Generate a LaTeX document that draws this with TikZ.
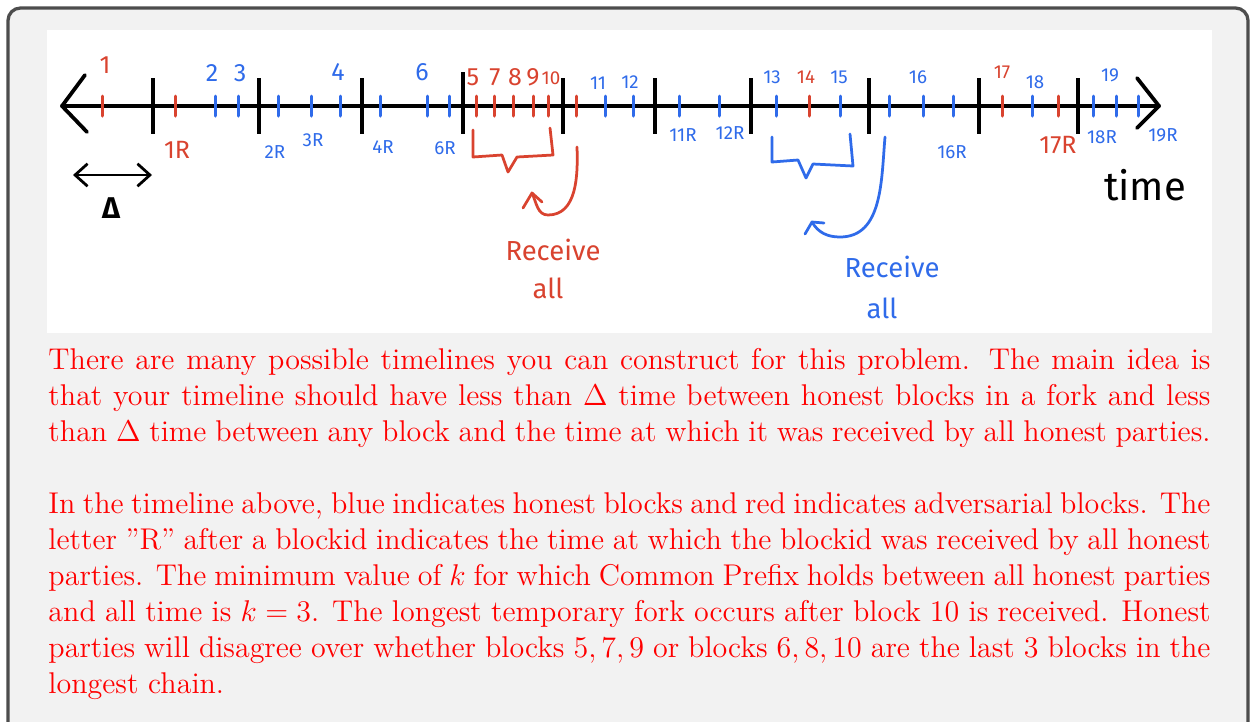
\documentclass[tikz,border=0pt]{standalone}
\usepackage{fontspec}
\usetikzlibrary{arrows.meta}
\newfontfamily\hand{Fira Sans}
\definecolor{hred}{HTML}{D9432F}
\definecolor{hblue}{HTML}{2F6BEA}
\definecolor{boxgray}{HTML}{F2F2F2}
\definecolor{boxedge}{HTML}{4D4D4D}
\tikzset{
  axisline/.style={line width=1.5pt, line cap=round, line join=round},
  bigtick/.style={line width=1.3pt},
  rtick/.style={hred, line width=1.2pt, line cap=round},
  btick/.style={hblue, line width=1.2pt, line cap=round},
  rpen/.style={hred, line width=1.1pt, line cap=round, line join=round},
  bpen/.style={hblue, line width=1.1pt, line cap=round, line join=round},
  rlab/.style={text=hred, font=\hand\fontsize{10}{10}\selectfont, inner sep=0pt},
  blab/.style={text=hblue, font=\hand\fontsize{10}{10}\selectfont, inner sep=0pt},
  rsm/.style={rlab, font=\hand\fontsize{7.5}{7.5}\selectfont},
  bsm/.style={blab, font=\hand\fontsize{7.5}{7.5}\selectfont},
  rword/.style={text=hred, font=\hand\fontsize{11}{11}\selectfont, inner sep=0pt},
  bword/.style={text=hblue, font=\hand\fontsize{11}{11}\selectfont, inner sep=0pt},
}
\begin{document}
\begin{tikzpicture}[x=0.4pt,y=-0.4pt]
\useasboundingbox (0,0) rectangle (1251,721);
\clip (0,0) rectangle (1251,721);
% outer box
\draw[boxedge, line width=1.3pt, fill=boxgray, rounded corners=5pt] (8,8) rectangle (1248,780);
\fill[white] (47,30) rectangle (1212,333);

% main axis
\draw[axisline] (62,106) -- (1159,106);
\draw[axisline] (85,75) -- (62,106) -- (87,132);
\draw[axisline] (1137,78) -- (1159,106) -- (1137,128);

% black ticks
\foreach \x in {153,259,362,563,655,751,869,979,1078}
  \draw[bigtick] (\x,78) -- (\x,134);
\draw[bigtick] (463,72) -- (463,134);

% red ticks
\foreach \x in {102,175,476,494,513,533,548,576,809,1002,1058}
  \draw[rtick] (\x,96) -- (\x,116);
% blue ticks
\foreach \x in {215,238,278,311,340,380,427,449,605,633,679,719,776,840,889,923,953,1032,1093,1116,1138}
  \draw[btick] (\x,96) -- (\x,116);

% labels above
\node[rlab] (l1) at (105,65) {1};
\node[blab] (l2) at (212,73) {2};
\node[blab] (l3) at (240,73) {3};
\node[blab] (l4) at (338,72) {4};
\node[blab] (l6) at (422,72) {6};
\node[rlab] (l5) at (473,77) {5};
\node[rlab] (l7) at (495,77) {7};
\node[rlab] (l8) at (515,77) {8};
\node[rlab] (l9) at (533,77) {9};
\node[rsm] (l10) at (551,78) {10};
\node[bsm] (l11) at (598,83) {11};
\node[bsm] (l12) at (630,82) {12};
\node[bsm] (l13) at (772,77) {13};
\node[rsm] (l14) at (806,77) {14};
\node[bsm] (l15) at (839,77) {15};
\node[bsm] (l16) at (918,77) {16};
\node[rsm] (l17) at (1002,72) {17};
\node[bsm] (l18) at (1035,82) {18};
\node[bsm] (l19) at (1110,75) {19};

% labels below
\node[rlab] (r1) at (177,150) {1R};
\node[bsm] (r2) at (275,152) {2R};
\node[bsm] (r3) at (313,140) {3R};
\node[bsm] (r4) at (383,147) {4R};
\node[bsm] (r6) at (445,148) {6R};
\node[bsm] (r11) at (683,135) {11R};
\node[bsm] (r12) at (730,133) {12R};
\node[bsm] (r16) at (952,152) {16R};
\node[rlab] (r17) at (1058,145) {17R};
\node[bsm] (r18) at (1102,137) {18R};
\node[bsm] (r19) at (1163,135) {19R};

% delta
\coordinate (dl) at (73,175);
\coordinate (dr) at (152,175);
\draw[line width=1.1pt, {Straight Barb[length=5pt,width=9pt]}-{Straight Barb[length=5pt,width=9pt]}] (dl) -- (dr);
\node[font=\hand\bfseries\fontsize{12}{12}\selectfont, inner sep=0pt] (delta) at (111,208) {Δ};

% red brace
\draw[rpen] (473,130) -- (473,157) -- (502,155) -- (508,172) -- (517,157) -- (553,155) -- (550,128);
% red arrow
\coordinate (ra0) at (577,147);
\coordinate (ra1) at (548,215);
\coordinate (ratip) at (532,193);
\draw[rpen] (ra0) to[out=-88,in=0] (ra1) to[out=180,in=-65] (ratip);
\draw[rpen] (523,208) -- (ratip) -- (542,202);
\node[rword] (rrec) at (553,250) {Receive};
\node[rword] (rall) at (548,288) {all};

% blue brace
\draw[bpen] (772,137) -- (772,162) -- (798,160) -- (806,178) -- (813,164) -- (853,166) -- (850,134);
% blue arrow
\coordinate (ba0) at (885,137);
\coordinate (ba1) at (840,237);
\coordinate (batip) at (812,222);
\draw[bpen] (ba0) to[out=-95,in=0] (ba1) to[out=180,in=-60] (batip);
\draw[bpen] (805,234) -- (batip) -- (824,223);
\node[bword] (brec) at (892,267) {Receive};
\node[bword] (ball) at (882,308) {all};

% time
\node[font=\hand\fontsize{16}{16}\selectfont, inner sep=0pt] (time) at (1145,185) {time};

% explanation text
\node[anchor=north west, text width=464.8pt, align=justify, text=red, inner sep=0pt,
      font=\fontsize{12}{14.4}\selectfont] (expl) at (48,348) {%
There are many possible timelines you can construct for this problem.  The main idea is that your timeline should have less than $\Delta$ time between honest blocks in a fork and less than $\Delta$ time between any block and the time at which it was received by all honest parties.\par
\vspace{14.4pt}
In the timeline above, blue indicates honest blocks and red indicates adversarial blocks. The\linebreak{} letter ''R'' after a blockid indicates the time at which the blockid was received by all honest\linebreak{} parties. The minimum value of $k$ for which Common Prefix holds between all honest parties\linebreak{} and all time is $k=3$. The longest temporary fork occurs after block 10 is received. Honest\linebreak{} parties will disagree over whether blocks $5,7,9$ or blocks $6,8,10$ are the last 3 blocks in the\linebreak{} longest chain.};
\end{tikzpicture}
\end{document}
